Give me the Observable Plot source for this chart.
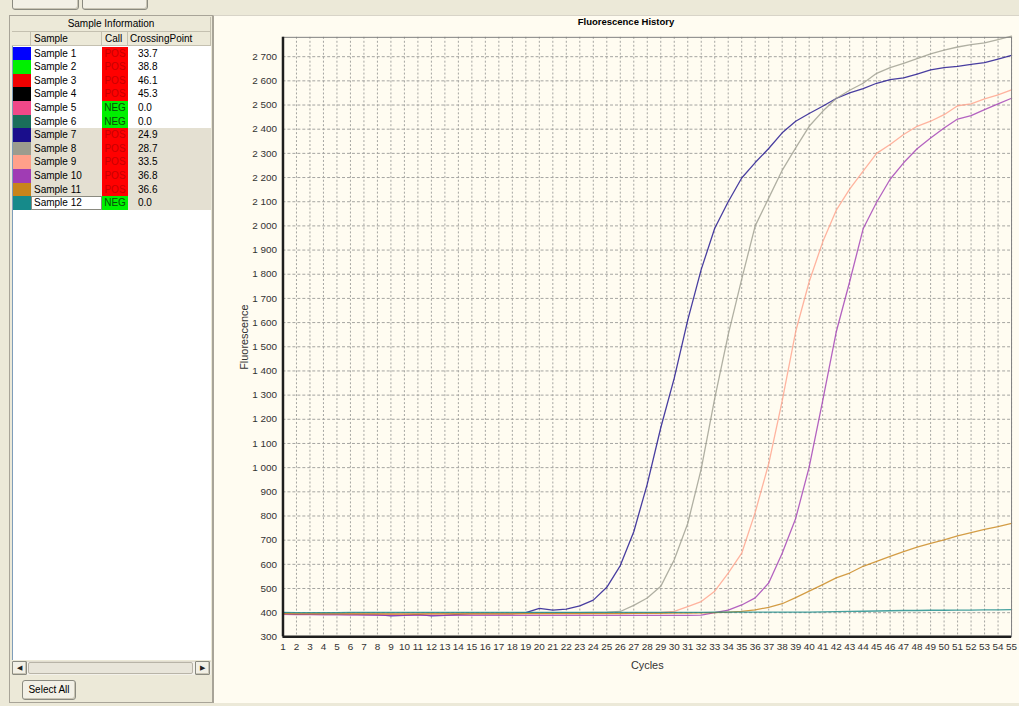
<!DOCTYPE html>
<html><head><meta charset="utf-8">
<script src="https://cdn.jsdelivr.net/npm/d3@7"></script>
<script src="https://cdn.jsdelivr.net/npm/@observablehq/plot@0.6"></script>
<style>
html,body{margin:0;padding:0;width:1019px;height:706px;overflow:hidden;background:#ECE9D8;font-family:"Liberation Sans",Arial,sans-serif;}
.abs{position:absolute;box-sizing:border-box;}
.btn{background:#F2F0E6;border:1px solid #8A8A80;border-radius:3px;box-shadow:inset -1px -1px 0 #C8C4B4;}
#left{left:9px;top:15px;width:204px;height:688px;border:1px solid #A8A498;background:#ECE9D8;}
#list{left:12px;top:17px;width:199px;height:643px;background:#fff;border-left:1px solid #7F9DB9;}
.hdr{font-size:10px;color:#000;background:#ECE9D8;border-right:1px solid #C4C0B0;border-bottom:1px solid #C4C0B0;line-height:13px;white-space:nowrap;}
.cell{font-size:10px;color:#000;white-space:nowrap;}
#chartpanel{left:213px;top:15px;width:806px;height:688px;background:#FFFCF1;border-left:1px solid #A8A498;border-top:1px solid #D8D4C8;}
#title{left:526px;width:200px;top:16px;text-align:center;font-size:9.5px;font-weight:bold;color:#000;}
#plot{left:213px;top:15px;}
#plot g[aria-label="x-axis label"] text, #plot g[aria-label="y-axis label"] text{font-size:11px;}
</style></head>
<body>
<div class="abs btn" style="left:12px;top:-12px;width:67px;height:22px"></div>
<div class="abs btn" style="left:82px;top:-12px;width:66px;height:22px"></div>
<div id="left" class="abs"></div>
<div id="list" class="abs"></div>
<div id="tablehost"></div>
<div class="abs" style="left:12px;top:661px;width:199px;height:14px;background:#F3F1EA;border-top:1px solid #E0DCD0"></div>
<div class="abs btn" style="left:12px;top:661px;width:15px;height:14px;border-radius:1px;font-size:7px;line-height:12px;text-align:center;color:#222">&#9664;</div>
<div class="abs" style="left:28px;top:662px;width:165px;height:12px;background:#E8E5DA;border:1px solid #B8B4A8;border-radius:2px"></div>
<div class="abs btn" style="left:195px;top:661px;width:15px;height:14px;border-radius:1px;font-size:7px;line-height:12px;text-align:center;color:#222">&#9654;</div>
<div class="abs btn" style="left:22px;top:680px;width:54px;height:20px;font-size:10px;line-height:18px;text-align:center;color:#000">Select All</div>
<div id="chartpanel" class="abs"></div>
<div id="title" class="abs">Fluorescence History</div>
<div id="plot" class="abs"></div>
<script>
// ---- table data ----
const sampleNames = ["Sample 1","Sample 2","Sample 3","Sample 4","Sample 5","Sample 6","Sample 7","Sample 8","Sample 9","Sample 10","Sample 11","Sample 12"];
const sampleColors = ["#0000FF","#00F000","#F00000","#000000","#F04888","#1A6E5A","#1A0E8C","#9C9C8E","#FFA08A","#A03CB4","#C8841A","#168A8A"];
const calls = ["POS","POS","POS","POS","NEG","NEG","POS","POS","POS","POS","POS","NEG"];
const crossingPoints = ["33.7","38.8","46.1","45.3","0.0","0.0","24.9","28.7","33.5","36.8","36.6","0.0"];
const selected = [false,false,false,false,false,false,true,true,true,true,true,true];

// ---- chart data (fluorescence per cycle) ----
const cycles = d3.range(1, 56);
const s7  = [398,393,394,395,394,394,392,392,387,389,393,387,389,393,396,396,396,396,400,418,411,415,428,452,505,595,735,932,1165,1370,1610,1820,1990,2100,2198,2262,2320,2385,2433,2465,2495,2527,2550,2568,2590,2605,2612,2628,2645,2655,2660,2668,2675,2690,2705];
const s8  = [399,397,397,398,398,398,399,398,397,398,398,398,397,398,398,398,398,398,399,399,399,400,400,401,402,405,430,461,509,619,769,995,1287,1550,1780,2000,2115,2230,2323,2412,2474,2527,2561,2590,2631,2655,2672,2692,2712,2727,2740,2750,2757,2771,2785];
const s9  = [396,396,395,395,395,395,394,394,394,395,395,395,395,395,395,395,395,395,396,396,396,396,396,397,397,398,398,399,401,405,425,446,489,564,646,815,1016,1276,1563,1769,1933,2064,2152,2227,2300,2337,2378,2412,2433,2460,2497,2505,2525,2542,2563];
const s10 = [393,392,392,391,391,390,390,389,389,389,389,389,389,389,389,389,389,389,389,389,389,389,389,389,389,389,389,389,389,389,389,390,400,411,432,461,523,646,790,1002,1276,1560,1769,1988,2098,2193,2261,2319,2364,2405,2442,2456,2481,2505,2528];
const s11 = [396,395,395,395,395,395,395,395,394,394,394,395,395,395,395,395,395,395,396,396,396,396,396,396,396,396,397,397,397,398,398,399,400,402,405,412,422,437,462,489,516,544,564,592,612,633,653,671,687,701,718,731,745,756,769];
const s12 = [401,400,400,400,400,401,401,401,401,401,401,401,401,401,401,401,401,401,401,401,401,401,401,401,401,401,401,401,401,401,401,401,402,402,402,402,402,402,402,402,403,404,405,406,407,408,409,409,410,410,411,411,412,412,413];
const plotted = [["Sample 7", s7],["Sample 8", s8],["Sample 9", s9],["Sample 10", s10],["Sample 11", s11],["Sample 12", s12]];
const yTicks = [300,400,500,600,700,800,900,1000,1100,1200,1300,1400,1500,1600,1700,1800,1900,2000,2100,2200,2300,2400,2500,2600,2700];

// ---- build the sample table ----
const host = document.getElementById("tablehost");
function add(cls, style, text){ const d=document.createElement("div"); d.className="abs "+cls; d.setAttribute("style",style); if(text!=null) d.textContent=text; host.appendChild(d); return d; }
add("hdr","left:12px;top:17px;width:199px;height:15px;text-align:center;line-height:14px","Sample Information");
add("hdr","left:12px;top:32px;width:19px;height:14px","");
add("hdr","left:31px;top:32px;width:71px;height:14px;padding-left:3px","Sample");
add("hdr","left:102px;top:32px;width:26px;height:14px;padding-left:3px","Call");
add("hdr","left:128px;top:32px;width:83px;height:14px;padding-left:2px","CrossingPoint");
const rowH = 13.6, row0 = 46.5;
sampleNames.forEach((n,i)=>{
  const top = Math.round(row0 + i*rowH), h = Math.round(row0 + (i+1)*rowH) - top;
  const bg = selected[i] ? "#E4E0D2" : "#FFFFFF";
  const lh = `line-height:${h}px;`;
  add("cell",`left:31px;top:${top}px;width:180px;height:${h}px;background:${bg}`,"");
  add("cell",`left:13px;top:${top}px;width:18px;height:${h}px;background:${sampleColors[i]}`,"");
  const focus = i===11 ? `background:#fff;border:1px solid #8A8A80;padding-left:2px;line-height:${h-2}px;` : `padding-left:3px;${lh}`;
  add("cell",`left:31px;top:${top}px;width:71px;height:${h}px;${focus}`,n);
  const pos = calls[i]==="POS";
  add("cell",`left:102px;top:${top}px;width:26px;height:${h}px;${lh}text-align:center;background:${pos?"#FF0000":"#00F000"};color:${pos?"#C80000":"#0A4A0A"}`,calls[i]);
  add("cell",`left:138px;top:${top}px;width:40px;height:${h}px;${lh}`,crossingPoints[i]);
});

// ---- chart ----
const rows = plotted.flatMap(([name, vals]) => vals.map((v,k)=>({sample:name, cycle:cycles[k], value:v})));
const loc = d3.formatLocale({decimal:".", thousands:" ", grouping:[3], currency:["",""]});
const fmt = loc.format(",d");
const chart = Plot.plot({
  width: 812, height: 688,
  marginLeft: 70, marginRight: 8, marginTop: 22, marginBottom: 62,
  style: {background:"transparent", fontFamily:"Liberation Sans, Arial, sans-serif", fontSize:"10px", color:"#333", overflow:"visible"},
  x: {domain:[1,55]},
  y: {domain:[300,2780]},
  color: {domain: sampleNames, range: sampleColors},
  marks: [
    Plot.gridX(cycles.slice(1), {stroke:"#A4A4A0", strokeOpacity:1, strokeDasharray:"2,2"}),
    Plot.gridY(yTicks.slice(1), {stroke:"#A4A4A0", strokeOpacity:1, strokeDasharray:"3,2"}),
    Plot.line(rows, {x:"cycle", y:"value", z:"sample", stroke:"sample", strokeWidth:1.3, strokeOpacity:0.8}),
    Plot.frame({stroke:"#808080"}),
    Plot.axisX(cycles, {tickSize:0, tickPadding:6, label:"Cycles", labelArrow:"none", labelAnchor:"center", labelOffset:32, fill:"#333"}),
    Plot.axisY(yTicks, {tickSize:0, tickPadding:6, tickFormat:fmt, label:"Fluorescence", labelArrow:"none", labelAnchor:"center", labelOffset:43, fill:"#333"}),
    Plot.ruleX([1], {stroke:"#1E1E1E", strokeWidth:2.5}),
    Plot.ruleY([300], {stroke:"#1E1E1E", strokeWidth:2.5})
  ]
});
document.getElementById("plot").appendChild(chart);
</script>
</body></html>
